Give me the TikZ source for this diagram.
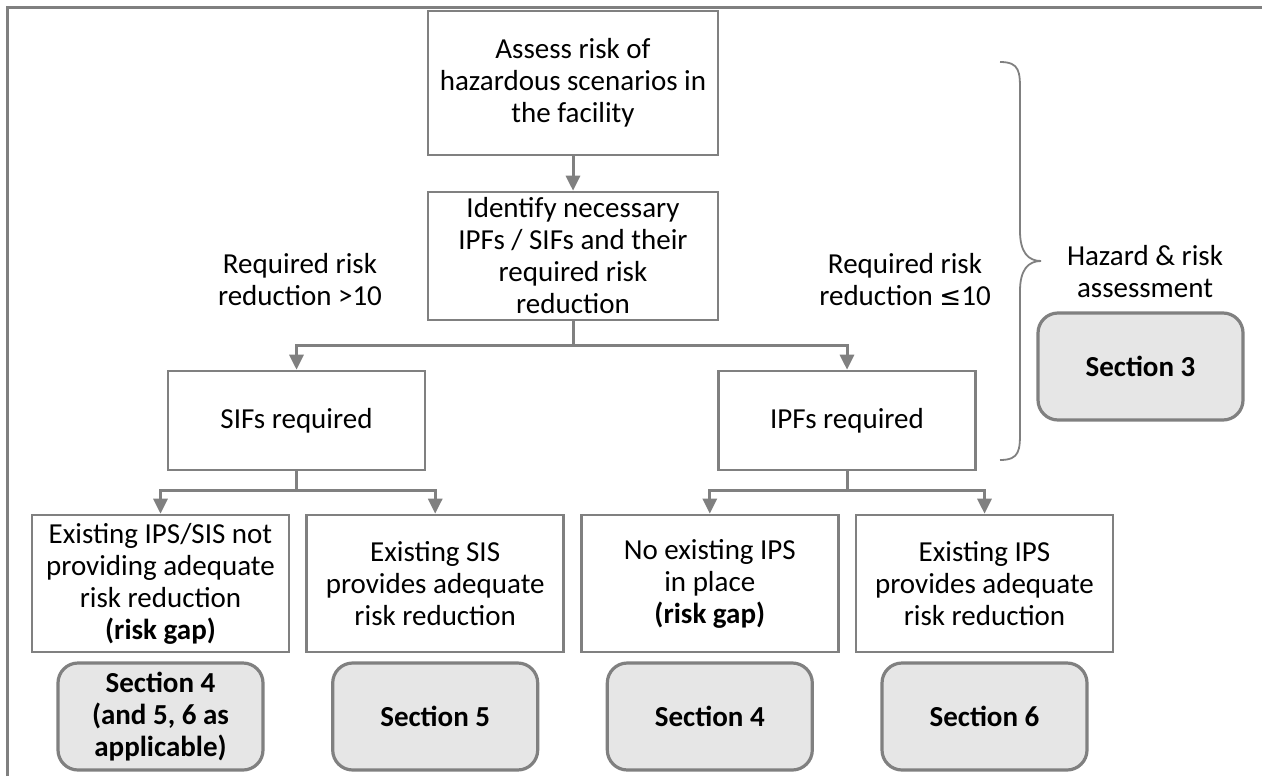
\documentclass[tikz,border=0pt]{standalone}
\usepackage{fontspec}
\setmainfont{Carlito}
\newfontfamily\symfnt[Scale=0.9]{DejaVu Sans}
\usetikzlibrary{arrows.meta}
\definecolor{linegray}{HTML}{808080}
\definecolor{secfill}{HTML}{E6E6E6}
\tikzset{
  box/.style={draw=linegray, line width=1.3pt, fill=white, align=center, inner sep=0pt,
    font=\fontsize{14.5pt}{16pt}\selectfont},
  secbox/.style={draw=linegray, line width=1.6pt, fill=secfill, rounded corners=10pt, align=center,
    inner sep=0pt, minimum width=102.5pt, minimum height=53.5pt,
    font=\fontsize{14.5pt}{16pt}\selectfont\bfseries},
  lbl/.style={align=center, inner sep=0pt, font=\fontsize{14.5pt}{16pt}\selectfont},
  conn/.style={draw=linegray, line width=1.5pt},
  arr/.style={conn, -{Triangle[length=7.5pt,width=7pt]}},
}
\begin{document}
\begin{tikzpicture}[x=0.5pt,y=-0.5pt]
\useasboundingbox (0,0) rectangle (1262,776);
% frame
\draw[linegray, line width=1.5pt] (7,776) -- (7,7) -- (1262,7);
% top boxes
\node[box, minimum width=145pt, minimum height=72pt] (A) at (573,83)
  {Assess risk of\\hazardous scenarios in\\the facility};
\node[box, minimum width=145pt, minimum height=64pt] (B) at (573,256)
  {Identify necessary\\IPFs / SIFs and their\\required risk\\reduction};
\node[box, minimum width=128.5pt, minimum height=49.5pt] (S) at (296.5,420.5) {SIFs required};
\node[box, minimum width=128.5pt, minimum height=49.5pt] (I) at (847,420.5) {IPFs required};
% bottom boxes
\node[box, minimum width=128.5pt, minimum height=68.5pt] (b1) at (160.5,583.5)
  {Existing IPS/SIS not\\providing adequate\\risk reduction\\\textbf{(risk gap)}};
\node[box, minimum width=128.5pt, minimum height=68.5pt] (b2) at (435.2,583.5)
  {Existing SIS\\provides adequate\\risk reduction};
\node[box, minimum width=128.5pt, minimum height=68.5pt] (b3) at (709.8,583.5)
  {No existing IPS\\in place\\\textbf{(risk gap)}};
\node[box, minimum width=128.5pt, minimum height=68.5pt] (b4) at (984.5,583.5)
  {Existing IPS\\provides adequate\\risk reduction};
% section boxes
\node[secbox] (r1) at (160.5,716.5) {Section 4\\(and 5, 6 as\\applicable)};
\node[secbox] (r2) at (435.2,716.5) {Section 5};
\node[secbox] (r3) at (709.8,716.5) {Section 4};
\node[secbox] (r4) at (984.5,716.5) {Section 6};
\node[secbox] (s3) at (1140.5,366.5) {Section 3};
% labels
\node[lbl] (L1) at (300,280) {Required risk\\reduction >10};
\node[lbl] (L2) at (905,280) {Required risk\\reduction {\symfnt ≤}10};
\node[lbl] (H) at (1145,272) {Hazard \& risk\\assessment};
% brace
\draw[linegray, line width=0.9pt] (1000,62) .. controls (1020,62) and (1020,72) .. (1020,92)
  -- (1020,231) .. controls (1020,252) and (1028,261) .. (1041,261)
  .. controls (1028,261) and (1020,270) .. (1020,291)
  -- (1020,430) .. controls (1020,450) and (1020,460) .. (1000,460);
% connectors
\draw[arr] (A) -- (B);
\coordinate (j1) at (573,345);
\coordinate (j2) at (296.5,490);
\coordinate (j3) at (847,490);
\draw[conn] (B.south) -- (j1);
\draw[arr] (j1) -| (S.north);
\draw[arr] (j1) -| (I.north);
\draw[conn] (S.south) -- (j2);
\draw[arr] (j2) -| (b1.north);
\draw[arr] (j2) -| (b2.north);
\draw[conn] (I.south) -- (j3);
\draw[arr] (j3) -| (b3.north);
\draw[arr] (j3) -| (b4.north);
\end{tikzpicture}
\end{document}
